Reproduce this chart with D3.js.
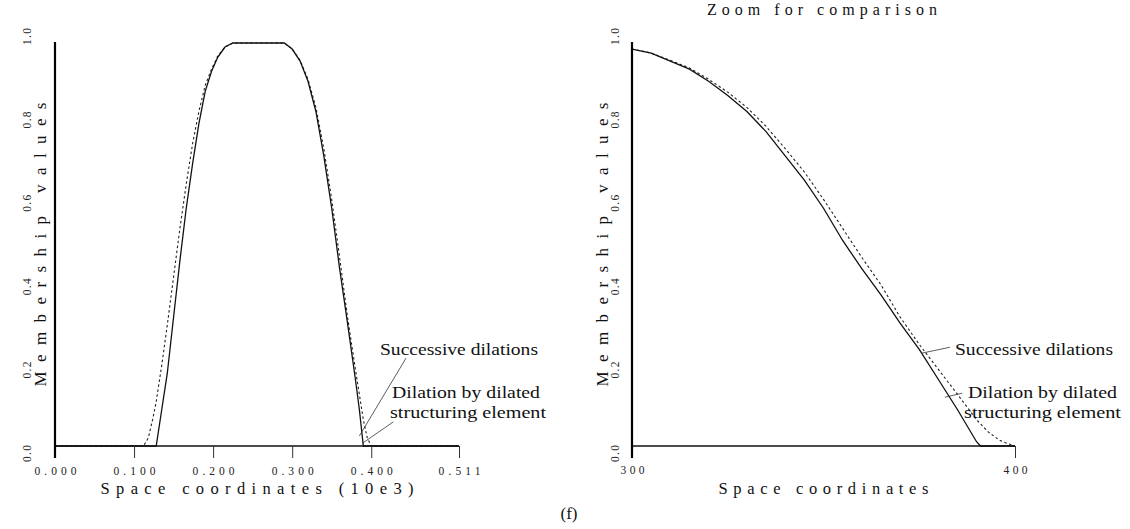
<!DOCTYPE html>
<html>
<head>
<meta charset="utf-8">
<script src="https://cdn.jsdelivr.net/npm/d3@7"></script>
<style>
  html, body { margin: 0; padding: 0; background: #fff; }
  svg { display: block; }
  .plot { font-family: "Liberation Serif", "DejaVu Serif", serif; fill: #111; }
  .note { font-family: "Liberation Serif", "Times New Roman", serif; font-size: 17.5px; fill: #111; }
</style>
</head>
<body>
<svg id="fig" width="1130" height="529"></svg>
<script>
// ---- Full profile, x in units of 10e3 ----
const fullX = [0.000, 0.112, 0.118, 0.124, 0.128, 0.135, 0.142, 0.150, 0.158, 0.166, 0.174, 0.182,
  0.190, 0.198, 0.206, 0.215, 0.225, 0.240, 0.260, 0.280, 0.290, 0.300, 0.310, 0.320, 0.330, 0.340,
  0.350, 0.360, 0.370, 0.380, 0.385, 0.390, 0.395, 0.400, 0.511];
// dilation by the dilated structuring element
const fullSolid = [0, 0, 0, 0, 0, 0.09, 0.18, 0.32, 0.46, 0.59, 0.70, 0.80,
  0.88, 0.93, 0.965, 0.99, 1.0, 1.0, 1.0, 1.0, 1.0, 0.985, 0.955, 0.905, 0.83, 0.72,
  0.59, 0.44, 0.305, 0.165, 0.09, 0.0, 0, 0, 0];
// successive dilations
const fullDashed = [0, 0, 0.02, 0.07, 0.11, 0.20, 0.30, 0.42, 0.54, 0.65, 0.75, 0.83,
  0.895, 0.935, 0.968, 0.99, 1.0, 1.0, 1.0, 1.0, 1.0, 0.985, 0.957, 0.91, 0.84, 0.738,
  0.612, 0.468, 0.32, 0.19, 0.128, 0.065, 0.02, 0.0, 0];
const fullXTicks = [0.000, 0.100, 0.200, 0.300, 0.400, 0.511];
const fullXTickLabels = ["0.000", "0.100", "0.200", "0.300", "0.400", "0.511"];

// ---- Zoomed falling edge, x in raw space coordinates ----
const zoomX = [300, 305, 310, 315, 320, 325, 330, 335, 340, 345, 350, 355, 360, 365, 370,
  375, 380, 385, 390, 391, 393, 396, 398, 400];
const zoomSolid = [0.985, 0.975, 0.955, 0.935, 0.905, 0.87, 0.83, 0.78, 0.72, 0.66, 0.59, 0.51,
  0.44, 0.375, 0.305, 0.24, 0.165, 0.09, 0.01, 0, 0, 0, 0, 0];
const zoomDashed = [0.985, 0.975, 0.957, 0.938, 0.91, 0.878, 0.84, 0.793, 0.738, 0.68, 0.612, 0.54,
  0.468, 0.40, 0.32, 0.252, 0.19, 0.128, 0.065, 0.055, 0.035, 0.014, 0.006, 0.0];
const zoomXTicks = [300, 400];
const zoomXTickLabels = ["300", "400"];

const yTicks = [0, 0.2, 0.4, 0.6, 0.8, 1.0];
const yTickLabels = ["0.0", "0.2", "0.4", "0.6", "0.8", "1.0"];

const svg = d3.select("#fig");
svg.append("rect").attr("width", 1130).attr("height", 529).attr("fill", "#fff");

function panel(cfg) {
  const g = svg.append("g").attr("class", "plot");
  const x = d3.scaleLinear().domain(cfg.xDomain).range(cfg.xRange);
  const y = d3.scaleLinear().domain([0, 1]).range([446, 43]);
  const y0 = y(0);

  // curves
  const line = d3.line().x(d => x(d[0])).y(d => y(d[1]));
  g.append("path")
    .datum(cfg.xs.map((v, i) => [v, cfg.dashed[i]]))
    .attr("d", line).attr("fill", "none").attr("stroke", "#222")
    .attr("stroke-width", 1.1).attr("stroke-dasharray", "2.5,2.5");
  g.append("path")
    .datum(cfg.xs.map((v, i) => [v, cfg.solid[i]]))
    .attr("d", line).attr("fill", "none").attr("stroke", "#111")
    .attr("stroke-width", 1.3);

  // x axis
  const xAxis = d3.axisBottom(x).tickValues(cfg.xTicks).tickSize(12)
    .tickFormat((d, i) => cfg.xTickLabels[i]);
  const ax = g.append("g").attr("transform", `translate(0,${y0})`).call(xAxis);
  ax.select(".domain").attr("d", `M${x.range()[0]},0H${x.range()[1]}`)
    .attr("stroke", "#111").attr("stroke-width", 1.4);
  ax.selectAll(".tick line").attr("stroke", "#333").attr("stroke-width", 1);
  ax.selectAll(".tick text")
    .attr("y", cfg.xLabelDy).attr("dy", 0)
    .attr("font-family", "Liberation Serif, serif")
    .attr("font-size", 11.5).attr("fill", "#222")
    .attr("textLength", cfg.xLabelLen).attr("lengthAdjust", "spacing");

  // y axis: vertical rule with rotated labels
  const ay = g.append("g").attr("transform", `translate(${x.range()[0]},0)`)
    .call(d3.axisLeft(y).tickValues(yTicks).tickSize(0).tickFormat((d, i) => yTickLabels[i]));
  ay.select(".domain").attr("d", `M0,${y(1) - 1}V${y0 + 12}`)
    .attr("stroke", "#000").attr("stroke-width", 2.2);
  ay.selectAll(".tick text")
    .attr("x", 0).attr("dy", 0)
    .attr("transform", d => `translate(${cfg.yLabelX - x.range()[0]},${(d - 0.5) * -14}) rotate(-90)`)
    .attr("text-anchor", "middle")
    .attr("font-family", "Liberation Serif, serif")
    .attr("font-size", 11.5).attr("fill", "#222")
    .attr("textLength", 17).attr("lengthAdjust", "spacing");

  // axis titles
  g.append("text")
    .attr("transform", `translate(${cfg.yTitleX},${(y(0) + y(1)) / 2}) rotate(-90)`)
    .attr("text-anchor", "middle").attr("font-size", 17)
    .attr("textLength", 284).attr("lengthAdjust", "spacing")
    .text("Membership values");
  g.append("text")
    .attr("x", (x.range()[0] + x.range()[1]) / 2).attr("y", 494)
    .attr("text-anchor", "middle").attr("font-size", 16.5)
    .attr("textLength", cfg.xTitleLen).attr("lengthAdjust", "spacing")
    .text(cfg.xTitle);

  // annotations with leader lines
  cfg.leaders.forEach(l => {
    svg.append("line")
      .attr("x1", x(l[0])).attr("y1", y(l[1]))
      .attr("x2", x(l[2])).attr("y2", y(l[3]))
      .attr("stroke", "#333").attr("stroke-width", 0.8);
  });
  cfg.notes.forEach(n => {
    svg.append("text").attr("class", "note")
      .attr("x", n.x).attr("y", n.y)
      .attr("textLength", n.w).attr("lengthAdjust", "spacingAndGlyphs")
      .text(n.t);
  });
  return { x, y };
}

panel({
  xDomain: [0, 0.511], xRange: [55, 459],
  xs: fullX, solid: fullSolid, dashed: fullDashed,
  xTicks: fullXTicks, xTickLabels: fullXTickLabels, xLabelLen: 42, xLabelDy: 29,
  xTitle: "Space coordinates (10e3)", xTitleLen: 313,
  yLabelX: 31, yTitleX: 46,
  leaders: [[0.385, 0.025, 0.444, 0.218], [0.389, 0.007, 0.428, 0.06]],
  notes: [
    { x: 380, y: 355, t: "Successive dilations", w: 158 },
    { x: 392, y: 398, t: "Dilation by dilated", w: 148 },
    { x: 390, y: 418, t: "structuring element", w: 156 }
  ]
});

panel({
  xDomain: [300, 400], xRange: [632, 1015],
  xs: zoomX, solid: zoomSolid, dashed: zoomDashed,
  xTicks: zoomXTicks, xTickLabels: zoomXTickLabels, xLabelLen: 24, xLabelDy: 28,
  xTitle: "Space coordinates", xTitleLen: 210,
  yLabelX: 619, yTitleX: 608,
  leaders: [[375.5, 0.23, 383.0, 0.245], [381.7, 0.121, 386.2, 0.131]],
  notes: [
    { x: 955, y: 355, t: "Successive dilations", w: 158 },
    { x: 968, y: 398, t: "Dilation by dilated", w: 149 },
    { x: 964, y: 418, t: "structuring element", w: 157 }
  ]
});

svg.append("text")
  .attr("x", 822).attr("y", 15).attr("text-anchor", "middle")
  .attr("font-family", "Liberation Serif, serif").attr("font-size", 16).attr("fill", "#111")
  .attr("textLength", 230).attr("lengthAdjust", "spacing")
  .text("Zoom for comparison");

svg.append("text")
  .attr("x", 569).attr("y", 519).attr("text-anchor", "middle")
  .attr("font-family", "Liberation Serif, serif").attr("font-size", 17).attr("fill", "#111")
  .text("(f)");
</script>
</body>
</html>
